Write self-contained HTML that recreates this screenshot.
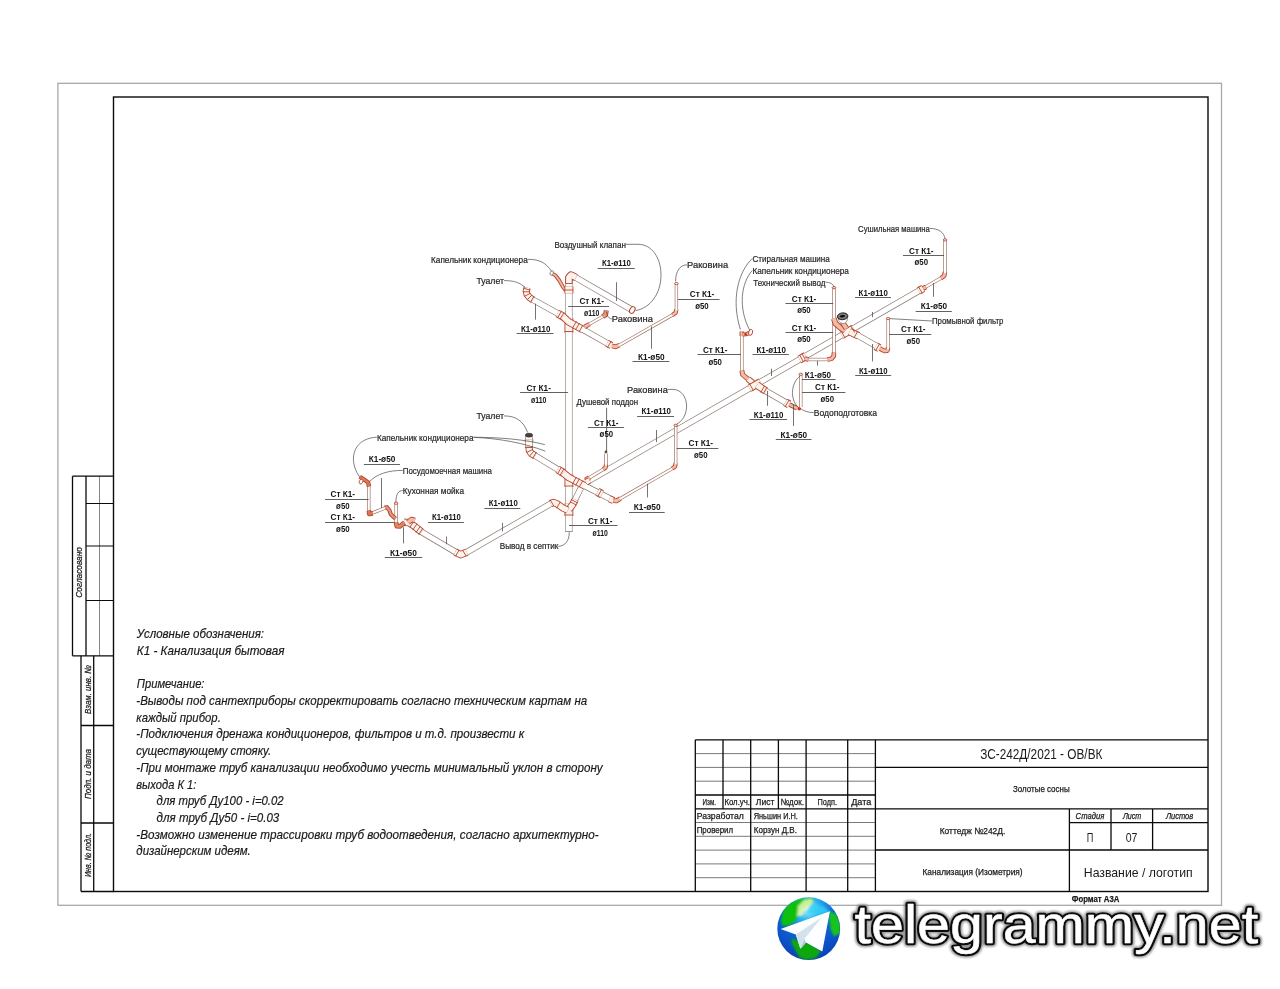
<!DOCTYPE html>
<html lang="ru"><head><meta charset="utf-8"><title>K1</title>
<style>
html,body{margin:0;padding:0;background:#fff;}
body{width:1280px;height:989px;overflow:hidden;position:relative;font-family:"Liberation Sans",sans-serif;}
svg{position:absolute;left:0;top:0;opacity:.999;will-change:transform;}
text{font-family:"Liberation Sans",sans-serif;fill:#1a1a1a;}
.n{font-style:italic;font-size:13px;stroke:#1a1a1a;stroke-width:0.2px;}
.t9{font-size:9px;stroke:#1a1a1a;stroke-width:0.25px;}
.lb{font-size:9.6px;fill:#262626;stroke:#262626;stroke-width:0.22px;}
.lbb{font-size:9.3px;fill:#151515;font-weight:bold;}
.fr line,.fr rect,.fr path{stroke:#0a0a0a;fill:none;}
</style></head><body>
<svg width="1280" height="989" viewBox="0 0 1280 989">
<rect x="0" y="0" width="1280" height="989" fill="#ffffff"/>
<!-- sheet outer border -->
<rect x="57.9" y="83.3" width="1163.6" height="822" fill="none" stroke="#a8a8a8" stroke-width="1.3"/>
<!-- FRAME -->
<g class="fr" id="frame">
<rect x="113.5" y="97" width="1094.5" height="794.5" stroke-width="1.4"/>
<!-- left stamp upper -->
<path d="M72.5 476.2H113.5M72.5 476.2V655.8M72.5 655.8H113.5M86 476.2V655.8" stroke-width="1.3"/>
<path d="M86 503.5H113.5M86 546H113.5M86 600.5H113.5" stroke-width="1.2"/>
<path d="M99.5 476.2V655.8" stroke-width="0.5"/>
<!-- left stamp lower -->
<path d="M81 655.8V891.5M81 891.5H113.5M93.7 655.8V891.5M81 725.5H113.5M81 823H113.5" stroke-width="1.3"/>
</g>
<!--TITLEBLOCK-->
<g class="fr" id="tb">
<path d="M695.3 739.8H1208M695.3 739.8V891.5M750.7 739.8V891.5M806.1 739.8V891.5M847.7 739.8V891.5M875.4 739.8V891.5M723.0 739.8V808.8M778.4 739.8V808.8M695.3 795.0H875.4M695.3 808.8H1208M875.4 767.4H1208M875.4 850H1208M1069.4 808.8V891.5M1111 808.8V850M1152.6 808.8V850M1069.4 822.6H1208" stroke-width="1.3"/>
<path d="M695.3 753.6H875.4M695.3 767.4H875.4M695.3 781.2H875.4M695.3 822.5H875.4M695.3 836.3H875.4M695.3 850.1H875.4M695.3 863.9H875.4M695.3 877.7H875.4" stroke-width="0.55" stroke="#333"/>
</g>
<text class="t9" x="702.5" y="805" textLength="13.5" lengthAdjust="spacingAndGlyphs">Изм.</text>
<text class="t9" x="724.4" y="805" textLength="25.6" lengthAdjust="spacingAndGlyphs">Кол.уч.</text>
<text class="t9" x="755.8" y="805" textLength="18.5" lengthAdjust="spacingAndGlyphs">Лист</text>
<text class="t9" x="780.4" y="805" textLength="23.5" lengthAdjust="spacingAndGlyphs">№док.</text>
<text class="t9" x="817.6" y="805" textLength="19.4" lengthAdjust="spacingAndGlyphs">Подп.</text>
<text class="t9" x="851.2" y="805" textLength="20.2" lengthAdjust="spacingAndGlyphs">Дата</text>
<text class="t9" x="696.7" y="818.6" textLength="47.1" lengthAdjust="spacingAndGlyphs">Разработал</text>
<text class="t9" x="753.7" y="818.6" textLength="44.2" lengthAdjust="spacingAndGlyphs">Яньшин И.Н.</text>
<text class="t9" x="696.7" y="832.7" textLength="36.4" lengthAdjust="spacingAndGlyphs">Проверил</text>
<text class="t9" x="753.7" y="832.7" textLength="43.3" lengthAdjust="spacingAndGlyphs">Корзун Д.В.</text>
<text class="t14" x="980.2" y="759.2" textLength="122.2" lengthAdjust="spacingAndGlyphs" style="font-size:13.8px">ЗС-242Д/2021 - ОВ/ВК</text>
<text class="t9" x="1013" y="791.6" textLength="56.6" lengthAdjust="spacingAndGlyphs">Золотые сосны</text>
<text class="t9" x="939.7" y="834" textLength="65.7" lengthAdjust="spacingAndGlyphs">Коттедж №242Д.</text>
<text class="t9" x="922.5" y="874.5" textLength="100.1" lengthAdjust="spacingAndGlyphs">Канализация (Изометрия)</text>
<text class="t9" x="1075.6" y="819.3" textLength="28.7" lengthAdjust="spacingAndGlyphs" style="font-style:italic">Стадия</text>
<text class="t9" x="1122.9" y="819.3" textLength="18.4" lengthAdjust="spacingAndGlyphs" style="font-style:italic">Лист</text>
<text class="t9" x="1165.9" y="819.3" textLength="27.3" lengthAdjust="spacingAndGlyphs" style="font-style:italic">Листов</text>
<text class="t13" x="1086.8" y="842.2" textLength="6.6" lengthAdjust="spacingAndGlyphs" style="font-size:13px">П</text>
<text class="t13" x="1125.7" y="842.2" textLength="11.7" lengthAdjust="spacingAndGlyphs" style="font-size:13px">07</text>
<text class="t13" x="1083.8" y="877.2" textLength="108.9" lengthAdjust="spacingAndGlyphs" style="font-size:13.4px">Название / логотип</text>
<text class="t9" x="1071.8" y="901.8" textLength="47.6" lengthAdjust="spacingAndGlyphs" style="font-weight:bold;font-size:8.6px">Формат А3А</text>
<!--/TITLEBLOCK-->
<!--NOTES-->
<g id="notes">
<text class="n" x="136.8" y="637.9" textLength="127.2" lengthAdjust="spacingAndGlyphs">Условные обозначения:</text>
<text class="n" x="136.8" y="654.6" textLength="147.7" lengthAdjust="spacingAndGlyphs">К1 - Канализация бытовая</text>
<text class="n" x="136.8" y="688.1" textLength="67.7" lengthAdjust="spacingAndGlyphs">Примечание:</text>
<text class="n" x="136.3" y="704.8" textLength="450.9" lengthAdjust="spacingAndGlyphs">-Выводы под сантехприборы скорректировать согласно техническим картам на</text>
<text class="n" x="136.3" y="721.5" textLength="84.5" lengthAdjust="spacingAndGlyphs">каждый прибор.</text>
<text class="n" x="136.3" y="738.3" textLength="387.9" lengthAdjust="spacingAndGlyphs">-Подключения дренажа кондиционеров, фильтров и т.д. произвести к</text>
<text class="n" x="136.3" y="755.0" textLength="134.8" lengthAdjust="spacingAndGlyphs">существующему стояку.</text>
<text class="n" x="136.3" y="771.7" textLength="466.3" lengthAdjust="spacingAndGlyphs">-При монтаже труб канализации необходимо учесть минимальный уклон в сторону</text>
<text class="n" x="136.3" y="788.5" textLength="60.1" lengthAdjust="spacingAndGlyphs">выхода К 1:</text>
<text class="n" x="156.6" y="805.2" textLength="127.1" lengthAdjust="spacingAndGlyphs">для труб Ду100 - i=0.02</text>
<text class="n" x="156.6" y="821.9" textLength="122.7" lengthAdjust="spacingAndGlyphs">для труб Ду50 - i=0.03</text>
<text class="n" x="136.3" y="838.7" textLength="462.3" lengthAdjust="spacingAndGlyphs">-Возможно изменение трассировки труб водоотведения, согласно архитектурно-</text>
<text class="n" x="136.3" y="855.4" textLength="114.5" lengthAdjust="spacingAndGlyphs">дизайнерским идеям.</text>
</g>
<text class="t9" style="font-style:italic" transform="translate(79.2 572.5) rotate(-90)" x="-25.2" y="3" textLength="50.5" lengthAdjust="spacingAndGlyphs">Согласовано</text>
<text class="t9" style="font-style:italic" transform="translate(88 689.5) rotate(-90)" x="-24.4" y="3" textLength="48.7" lengthAdjust="spacingAndGlyphs">Взам. инв. №</text>
<text class="t9" style="font-style:italic" transform="translate(88 774) rotate(-90)" x="-25.0" y="3" textLength="50" lengthAdjust="spacingAndGlyphs">Подп. и дата</text>
<text class="t9" style="font-style:italic" transform="translate(88 855) rotate(-90)" x="-22.0" y="3" textLength="44" lengthAdjust="spacingAndGlyphs">Инв. № подл.</text>
<!--/NOTES-->
<!--DIAGRAM-->
<g id="dia" fill="none">
<path d="M568.9 276V531.3" stroke="#a08d86" stroke-width="7.40"/>
<path d="M568.9 275V532" stroke="#fff" stroke-width="6.00"/>
<path d="M565.2 531.5H572.6" stroke="#87746d" stroke-width="0.8"/>
<path d="M573.5 276.3L631.6 309.6" stroke="#87746d" stroke-width="6.45" stroke-linecap="butt"/>
<path d="M573.0 276.0L632.1 309.9" stroke="#fff" stroke-width="5.15" stroke-linecap="butt"/>
<ellipse cx="632.3" cy="310" rx="2.4" ry="3.6" transform="rotate(30 632.3 310)" fill="#fff" stroke="#b5452a" stroke-width="1.1"/>
<path d="M568.9 283.0L568.9 277.5L571.0 275.0L576.0 277.6" stroke="#b5452a" stroke-width="7.40" stroke-linecap="butt" stroke-linejoin="round"/>
<path d="M568.9 283.0L568.9 277.5L571.0 275.0L576.0 277.6" stroke="#fdf4ef" stroke-width="5.60" stroke-linecap="butt" stroke-linejoin="round"/>
<path d="M572.6 283.5L565.1 283.5" stroke="#b5452a" stroke-width="0.9"/>
<path d="M552.0 273.2L555.5 275.5L559.0 280.0L563.0 287.0L565.5 290.5" stroke="#b5452a" stroke-width="3.70" stroke-linecap="butt" stroke-linejoin="round"/>
<path d="M552.0 273.2L555.5 275.5L559.0 280.0L563.0 287.0L565.5 290.5" stroke="#f0bba8" stroke-width="1.90" stroke-linecap="butt" stroke-linejoin="round"/>
<ellipse cx="551.7" cy="273" rx="1.5" ry="2.4" transform="rotate(25 551.7 273)" fill="#fff" stroke="#87746d" stroke-width="0.8"/>
<path d="M568.9 286.5L568.9 293.5" stroke="#b5452a" stroke-width="9.00" stroke-linecap="butt" stroke-linejoin="round"/>
<path d="M568.9 286.5L568.9 293.5" stroke="#fdf4ef" stroke-width="7.20" stroke-linecap="butt" stroke-linejoin="round"/>
<path d="M573.2 290.0L564.5 290.0" stroke="#b5452a" stroke-width="0.9"/>
<path d="M531.6 299.0L560.5 315.0" stroke="#87746d" stroke-width="6.45" stroke-linecap="butt"/>
<path d="M531.1 298.7L561.0 315.3" stroke="#fff" stroke-width="5.15" stroke-linecap="butt"/>
<path d="M527.2 287.6L526.2 291.0L527.0 294.5L529.5 297.5L533.0 299.8" stroke="#b5452a" stroke-width="7.00" stroke-linecap="butt" stroke-linejoin="round"/>
<path d="M527.2 287.6L526.2 291.0L527.0 294.5L529.5 297.5L533.0 299.8" stroke="#fdf4ef" stroke-width="5.20" stroke-linecap="butt" stroke-linejoin="round"/>
<path d="M530.2 290.1L523.6 288.3" stroke="#b5452a" stroke-width="0.9"/>
<path d="M529.9 291.8L522.9 291.8" stroke="#b5452a" stroke-width="0.9"/>
<path d="M530.5 293.3L524.3 296.3" stroke="#b5452a" stroke-width="0.9"/>
<path d="M532.0 295.0L527.2 299.8" stroke="#b5452a" stroke-width="0.9"/>
<path d="M533.9 296.3L530.5 302.3" stroke="#b5452a" stroke-width="0.9"/>
<path d="M557.5 313.4L564.0 317.0" stroke="#b5452a" stroke-width="8.00" stroke-linecap="butt" stroke-linejoin="round"/>
<path d="M557.5 313.4L564.0 317.0" stroke="#fdf4ef" stroke-width="6.20" stroke-linecap="butt" stroke-linejoin="round"/>
<path d="M561.5 311.1L557.5 317.9" stroke="#b5452a" stroke-width="0.9"/>
<path d="M564.0 312.5L560.0 319.3" stroke="#b5452a" stroke-width="0.9"/>
<path d="M568.9 318.0L568.9 333.0" stroke="#b5452a" stroke-width="8.80" stroke-linecap="butt" stroke-linejoin="round"/>
<path d="M568.9 318.0L568.9 333.0" stroke="#fdf4ef" stroke-width="7.00" stroke-linecap="butt" stroke-linejoin="round"/>
<path d="M563.0 316.5L568.9 322.0L583.0 329.6" stroke="#b5452a" stroke-width="7.60" stroke-linecap="butt" stroke-linejoin="round"/>
<path d="M563.0 316.5L568.9 322.0L583.0 329.6" stroke="#fdf4ef" stroke-width="5.80" stroke-linecap="butt" stroke-linejoin="round"/>
<path d="M573.1 331.5L564.6 331.5" stroke="#b5452a" stroke-width="0.9"/>
<path d="M576.5 321.3L572.5 328.1" stroke="#b5452a" stroke-width="0.9"/>
<path d="M579.5 323.0L575.5 329.8" stroke="#b5452a" stroke-width="0.9"/>
<path d="M583.0 325.0L579.0 331.8" stroke="#b5452a" stroke-width="0.9"/>
<path d="M583.0 329.6L608.0 343.7" stroke="#87746d" stroke-width="6.45" stroke-linecap="butt"/>
<path d="M582.5 329.3L608.5 344.0" stroke="#fff" stroke-width="5.15" stroke-linecap="butt"/>
<path d="M588.5 324.6L604.3 315.6" stroke="#9d6f5e" stroke-width="3.35" stroke-linecap="butt"/>
<path d="M588.0 324.9L604.8 315.3" stroke="#fff" stroke-width="2.05" stroke-linecap="butt"/>
<path d="M584.5 327.0L589.5 324.1" stroke="#b5452a" stroke-width="4.50" stroke-linecap="butt" stroke-linejoin="round"/>
<path d="M584.5 327.0L589.5 324.1" stroke="#f0bba8" stroke-width="2.70" stroke-linecap="butt" stroke-linejoin="round"/>
<path d="M602.8 316.6L605.6 314.6L606.3 310.4" stroke="#b5452a" stroke-width="5.00" stroke-linecap="butt" stroke-linejoin="round"/>
<path d="M602.8 316.6L605.6 314.6L606.3 310.4" stroke="#e39a80" stroke-width="3.20" stroke-linecap="butt" stroke-linejoin="round"/>
<path d="M607.0 343.2L611.5 345.6" stroke="#b5452a" stroke-width="7.40" stroke-linecap="butt" stroke-linejoin="round"/>
<path d="M607.0 343.2L611.5 345.6" stroke="#fdf4ef" stroke-width="5.60" stroke-linecap="butt" stroke-linejoin="round"/>
<path d="M611.2 341.2L607.4 347.6" stroke="#b5452a" stroke-width="0.9"/>
<path d="M612.0 346.0L615.5 346.8L619.5 345.1" stroke="#b5452a" stroke-width="4.70" stroke-linecap="butt" stroke-linejoin="round"/>
<path d="M612.0 346.0L615.5 346.8L619.5 345.1" stroke="#f0bba8" stroke-width="2.90" stroke-linecap="butt" stroke-linejoin="round"/>
<path d="M619.5 345.1L673.8 314.2" stroke="#9d6f5e" stroke-width="3.35" stroke-linecap="butt"/>
<path d="M619.0 345.4L674.3 313.9" stroke="#fff" stroke-width="2.05" stroke-linecap="butt"/>
<path d="M672.5 315.0L675.6 312.8L676.4 309.5" stroke="#b5452a" stroke-width="4.30" stroke-linecap="butt" stroke-linejoin="round"/>
<path d="M672.5 315.0L675.6 312.8L676.4 309.5" stroke="#f0bba8" stroke-width="2.50" stroke-linecap="butt" stroke-linejoin="round"/>
<path d="M676.4 310.0L676.4 284.3" stroke="#9d6f5e" stroke-width="3.35" stroke-linecap="butt"/>
<path d="M676.4 310.6L676.4 283.7" stroke="#fff" stroke-width="2.05" stroke-linecap="butt"/>
<ellipse cx="676.4" cy="283.6" rx="1.8" ry="1.1" fill="#fdf4ef" stroke="#b5452a" stroke-width="0.9"/>
<path d="M529.0 436.0L529.0 448.0" stroke="#87746d" stroke-width="7.25" stroke-linecap="butt"/>
<path d="M529.0 435.4L529.0 448.6" stroke="#fff" stroke-width="5.95" stroke-linecap="butt"/>
<ellipse cx="529" cy="435.2" rx="3.6" ry="1.9" fill="#4d433f" stroke="#2a2522" stroke-width="0.7"/>
<path d="M529.0 439.5L529.0 442.0" stroke="#b5452a" stroke-width="8.40" stroke-linecap="butt" stroke-linejoin="round"/>
<path d="M529.0 439.5L529.0 442.0" stroke="#fdf4ef" stroke-width="6.60" stroke-linecap="butt" stroke-linejoin="round"/>
<path d="M534.0 455.1L562.1 472.1" stroke="#87746d" stroke-width="6.45" stroke-linecap="butt"/>
<path d="M533.5 454.8L562.6 472.4" stroke="#fff" stroke-width="5.15" stroke-linecap="butt"/>
<path d="M529.0 446.5L529.3 450.5L531.2 453.4L535.2 455.9" stroke="#b5452a" stroke-width="7.20" stroke-linecap="butt" stroke-linejoin="round"/>
<path d="M529.0 446.5L529.3 450.5L531.2 453.4L535.2 455.9" stroke="#fdf4ef" stroke-width="5.40" stroke-linecap="butt" stroke-linejoin="round"/>
<path d="M532.5 447.5L525.5 447.5" stroke="#b5452a" stroke-width="0.9"/>
<path d="M532.8 449.5L526.4 452.5" stroke="#b5452a" stroke-width="0.9"/>
<path d="M533.9 451.0L529.3 456.4" stroke="#b5452a" stroke-width="0.9"/>
<path d="M536.2 452.3L532.6 458.5" stroke="#b5452a" stroke-width="0.9"/>
<path d="M557.6 469.4L563.5 473.0" stroke="#b5452a" stroke-width="8.00" stroke-linecap="butt" stroke-linejoin="round"/>
<path d="M557.6 469.4L563.5 473.0" stroke="#fdf4ef" stroke-width="6.20" stroke-linecap="butt" stroke-linejoin="round"/>
<path d="M561.5 467.1L557.5 473.9" stroke="#b5452a" stroke-width="0.9"/>
<path d="M564.0 468.6L560.0 475.4" stroke="#b5452a" stroke-width="0.9"/>
<path d="M581.0 487.6L573.6 502.6" stroke="#87746d" stroke-width="6.25" stroke-linecap="butt"/>
<path d="M581.3 487.1L573.3 503.1" stroke="#fff" stroke-width="4.95" stroke-linecap="butt"/>
<path d="M588.0 481.3L921.0 289.6" stroke="#87746d" stroke-width="6.45" stroke-linecap="butt"/>
<path d="M587.5 481.6L921.5 289.3" stroke="#fff" stroke-width="5.15" stroke-linecap="butt"/>
<path d="M568.9 474.5L568.9 487.0" stroke="#b5452a" stroke-width="8.80" stroke-linecap="butt" stroke-linejoin="round"/>
<path d="M568.9 474.5L568.9 487.0" stroke="#fdf4ef" stroke-width="7.00" stroke-linecap="butt" stroke-linejoin="round"/>
<path d="M563.0 472.7L568.9 477.5L585.0 486.0" stroke="#b5452a" stroke-width="7.60" stroke-linecap="butt" stroke-linejoin="round"/>
<path d="M563.0 472.7L568.9 477.5L585.0 486.0" stroke="#fdf4ef" stroke-width="5.80" stroke-linecap="butt" stroke-linejoin="round"/>
<path d="M573.1 486.0L564.6 486.0" stroke="#b5452a" stroke-width="0.9"/>
<path d="M576.5 477.0L572.5 483.9" stroke="#b5452a" stroke-width="0.9"/>
<path d="M579.5 478.6L575.5 485.5" stroke="#b5452a" stroke-width="0.9"/>
<path d="M583.0 480.5L579.0 487.3" stroke="#b5452a" stroke-width="0.9"/>
<path d="M588.5 478.2L604.4 468.7" stroke="#9d6f5e" stroke-width="3.35" stroke-linecap="butt"/>
<path d="M588.0 478.5L604.9 468.4" stroke="#fff" stroke-width="2.05" stroke-linecap="butt"/>
<path d="M585.5 480.2L589.5 477.7" stroke="#b5452a" stroke-width="5.30" stroke-linecap="butt" stroke-linejoin="round"/>
<path d="M585.5 480.2L589.5 477.7" stroke="#f0bba8" stroke-width="3.50" stroke-linecap="butt" stroke-linejoin="round"/>
<path d="M603.3 469.3L605.6 467.5L606.0 464.5" stroke="#b5452a" stroke-width="4.30" stroke-linecap="butt" stroke-linejoin="round"/>
<path d="M603.3 469.3L605.6 467.5L606.0 464.5" stroke="#f0bba8" stroke-width="2.50" stroke-linecap="butt" stroke-linejoin="round"/>
<path d="M606.0 465.0L606.0 453.5" stroke="#9d6f5e" stroke-width="3.35" stroke-linecap="butt"/>
<path d="M606.0 465.6L606.0 452.9" stroke="#fff" stroke-width="2.05" stroke-linecap="butt"/>
<circle cx="606.0" cy="452.0" r="1.4" fill="#5a4a45"/>
<path d="M606.6 407.8V451" stroke="#444" stroke-width="0.8" fill="none"/>
<path d="M585.0 486.0L611.0 499.2" stroke="#87746d" stroke-width="6.45" stroke-linecap="butt"/>
<path d="M584.5 485.7L611.5 499.5" stroke="#fff" stroke-width="5.15" stroke-linecap="butt"/>
<path d="M597.5 491.8L601.9 494.2" stroke="#b5452a" stroke-width="8.40" stroke-linecap="butt" stroke-linejoin="round"/>
<path d="M597.5 491.8L601.9 494.2" stroke="#fdf4ef" stroke-width="6.60" stroke-linecap="butt" stroke-linejoin="round"/>
<path d="M601.7 489.5L597.7 496.5" stroke="#b5452a" stroke-width="0.9"/>
<path d="M609.5 498.7L613.6 500.6" stroke="#b5452a" stroke-width="7.20" stroke-linecap="butt" stroke-linejoin="round"/>
<path d="M609.5 498.7L613.6 500.6" stroke="#fdf4ef" stroke-width="5.40" stroke-linecap="butt" stroke-linejoin="round"/>
<path d="M613.2 500.6L616.5 500.9L620.4 498.5" stroke="#b5452a" stroke-width="4.90" stroke-linecap="butt" stroke-linejoin="round"/>
<path d="M613.2 500.6L616.5 500.9L620.4 498.5" stroke="#f0bba8" stroke-width="3.10" stroke-linecap="butt" stroke-linejoin="round"/>
<path d="M620.4 498.5L673.5 467.9" stroke="#9d6f5e" stroke-width="3.35" stroke-linecap="butt"/>
<path d="M619.9 498.8L674.0 467.6" stroke="#fff" stroke-width="2.05" stroke-linecap="butt"/>
<path d="M672.3 468.6L675.0 466.6L675.7 463.0" stroke="#b5452a" stroke-width="4.30" stroke-linecap="butt" stroke-linejoin="round"/>
<path d="M672.3 468.6L675.0 466.6L675.7 463.0" stroke="#f0bba8" stroke-width="2.50" stroke-linecap="butt" stroke-linejoin="round"/>
<path d="M675.7 463.6L675.7 426.0" stroke="#9d6f5e" stroke-width="3.35" stroke-linecap="butt"/>
<path d="M675.7 464.2L675.7 425.4" stroke="#fff" stroke-width="2.05" stroke-linecap="butt"/>
<ellipse cx="675.7" cy="425.3" rx="1.8" ry="1.1" fill="#fdf4ef" stroke="#b5452a" stroke-width="0.9"/>
<path d="M568.9 503.5L568.9 516.0" stroke="#b5452a" stroke-width="8.80" stroke-linecap="butt" stroke-linejoin="round"/>
<path d="M568.9 503.5L568.9 516.0" stroke="#fdf4ef" stroke-width="7.00" stroke-linecap="butt" stroke-linejoin="round"/>
<path d="M575.3 499.6L572.4 505.0L568.9 509.5" stroke="#b5452a" stroke-width="7.20" stroke-linecap="butt" stroke-linejoin="round"/>
<path d="M575.3 499.6L572.4 505.0L568.9 509.5" stroke="#fdf4ef" stroke-width="5.40" stroke-linecap="butt" stroke-linejoin="round"/>
<path d="M577.6 502.9L571.0 499.5" stroke="#b5452a" stroke-width="0.9"/>
<path d="M576.5 505.1L569.9 501.7" stroke="#b5452a" stroke-width="0.9"/>
<path d="M573.1 515.0L564.6 515.0" stroke="#b5452a" stroke-width="0.9"/>
<path d="M552.0 503.0L466.0 552.6" stroke="#87746d" stroke-width="6.45" stroke-linecap="butt"/>
<path d="M552.5 502.7L465.5 552.9" stroke="#fff" stroke-width="5.15" stroke-linecap="butt"/>
<path d="M567.9 510.2L563.0 508.0L556.5 503.6L553.2 502.4L550.5 503.8" stroke="#b5452a" stroke-width="7.20" stroke-linecap="butt" stroke-linejoin="round"/>
<path d="M567.9 510.2L563.0 508.0L556.5 503.6L553.2 502.4L550.5 503.8" stroke="#fdf4ef" stroke-width="5.40" stroke-linecap="butt" stroke-linejoin="round"/>
<path d="M560.4 501.8L556.6 508.2" stroke="#b5452a" stroke-width="0.9"/>
<path d="M550.1 499.7L553.9 506.1" stroke="#b5452a" stroke-width="0.9"/>
<path d="M456.5 552.6L419.5 530.7" stroke="#87746d" stroke-width="6.45" stroke-linecap="butt"/>
<path d="M457.0 552.9L419.0 530.4" stroke="#fff" stroke-width="5.15" stroke-linecap="butt"/>
<path d="M455.2 551.9L460.8 554.7L466.8 552.2" stroke="#b5452a" stroke-width="7.40" stroke-linecap="butt" stroke-linejoin="round"/>
<path d="M455.2 551.9L460.8 554.7L466.8 552.2" stroke="#fdf4ef" stroke-width="5.60" stroke-linecap="butt" stroke-linejoin="round"/>
<path d="M459.2 550.0L455.4 556.4" stroke="#b5452a" stroke-width="0.9"/>
<path d="M462.5 550.0L466.3 556.4" stroke="#b5452a" stroke-width="0.9"/>
<path d="M404.0 522.2L409.0 522.6L414.5 526.3L421.5 531.9" stroke="#b5452a" stroke-width="7.40" stroke-linecap="butt" stroke-linejoin="round"/>
<path d="M404.0 522.2L409.0 522.6L414.5 526.3L421.5 531.9" stroke="#fdf4ef" stroke-width="5.60" stroke-linecap="butt" stroke-linejoin="round"/>
<path d="M413.7 521.1L409.9 527.5" stroke="#b5452a" stroke-width="0.9"/>
<path d="M417.2 523.6L412.8 529.8" stroke="#b5452a" stroke-width="0.9"/>
<path d="M420.4 526.3L416.0 532.5" stroke="#b5452a" stroke-width="0.9"/>
<path d="M422.7 528.2L418.9 534.6" stroke="#b5452a" stroke-width="0.9"/>
<path d="M408.0 522.4L411.5 519.6L415.0 520.4" stroke="#b5452a" stroke-width="5.60" stroke-linecap="butt" stroke-linejoin="round"/>
<path d="M408.0 522.4L411.5 519.6L415.0 520.4" stroke="#f0bba8" stroke-width="3.80" stroke-linecap="butt" stroke-linejoin="round"/>
<path d="M396.1 504.0L396.1 524.5" stroke="#9d6f5e" stroke-width="3.35" stroke-linecap="butt"/>
<path d="M396.1 503.4L396.1 525.1" stroke="#fff" stroke-width="2.05" stroke-linecap="butt"/>
<ellipse cx="396.1" cy="503.2" rx="1.8" ry="1.1" fill="#fdf4ef" stroke="#b5452a" stroke-width="0.9"/>
<path d="M396.1 522.5L396.8 526.2L399.8 526.3L404.5 522.6" stroke="#b5452a" stroke-width="4.70" stroke-linecap="butt" stroke-linejoin="round"/>
<path d="M396.1 522.5L396.8 526.2L399.8 526.3L404.5 522.6" stroke="#e08468" stroke-width="2.90" stroke-linecap="butt" stroke-linejoin="round"/>
<path d="M384.2 507.8L387.0 507.2L389.4 510.2L390.8 514.2L393.4 516.8L395.6 518.6" stroke="#b5452a" stroke-width="4.20" stroke-linecap="butt" stroke-linejoin="round"/>
<path d="M384.2 507.8L387.0 507.2L389.4 510.2L390.8 514.2L393.4 516.8L395.6 518.6" stroke="#dd9379" stroke-width="2.40" stroke-linecap="butt" stroke-linejoin="round"/>
<path d="M371.5 513.4L384.4 508.2" stroke="#9d6f5e" stroke-width="3.35" stroke-linecap="butt"/>
<path d="M370.9 513.6L385.0 508.0" stroke="#fff" stroke-width="2.05" stroke-linecap="butt"/>
<path d="M368.8 484.0L368.8 512.0" stroke="#9d6f5e" stroke-width="3.35" stroke-linecap="butt"/>
<path d="M368.8 483.4L368.8 512.6" stroke="#fff" stroke-width="2.05" stroke-linecap="butt"/>
<path d="M368.8 510.5L369.4 514.0L372.6 513.4" stroke="#b5452a" stroke-width="4.70" stroke-linecap="butt" stroke-linejoin="round"/>
<path d="M368.8 510.5L369.4 514.0L372.6 513.4" stroke="#dd7355" stroke-width="2.90" stroke-linecap="butt" stroke-linejoin="round"/>
<path d="M359.8 476.8L364.0 479.6L368.2 482.6L368.9 486.5" stroke="#b5452a" stroke-width="4.30" stroke-linecap="butt" stroke-linejoin="round"/>
<path d="M359.8 476.8L364.0 479.6L368.2 482.6L368.9 486.5" stroke="#d9795c" stroke-width="2.50" stroke-linecap="butt" stroke-linejoin="round"/>
<ellipse cx="361" cy="481.6" rx="1.7" ry="2.5" transform="rotate(25 361 481.6)" fill="#fff" stroke="#b5452a" stroke-width="0.8"/>
<path d="M741.9 333.0L741.9 372.0" stroke="#9d6f5e" stroke-width="3.35" stroke-linecap="butt"/>
<path d="M741.9 332.4L741.9 372.6" stroke="#fff" stroke-width="2.05" stroke-linecap="butt"/>
<path d="M741.9 370.5L742.6 374.5L746.0 377.5L750.0 380.5" stroke="#b5452a" stroke-width="4.90" stroke-linecap="butt" stroke-linejoin="round"/>
<path d="M741.9 370.5L742.6 374.5L746.0 377.5L750.0 380.5" stroke="#f0bba8" stroke-width="3.10" stroke-linecap="butt" stroke-linejoin="round"/>
<path d="M748.0 379.0L753.0 383.0" stroke="#b5452a" stroke-width="6.30" stroke-linecap="butt" stroke-linejoin="round"/>
<path d="M748.0 379.0L753.0 383.0" stroke="#fdf4ef" stroke-width="4.50" stroke-linecap="butt" stroke-linejoin="round"/>
<path d="M741.9 336.0L741.9 331.5" stroke="#b5452a" stroke-width="4.70" stroke-linecap="butt" stroke-linejoin="round"/>
<path d="M741.9 336.0L741.9 331.5" stroke="#f0bba8" stroke-width="2.90" stroke-linecap="butt" stroke-linejoin="round"/>
<path d="M742.4 334.5L746.0 334.2L750.0 332.8" stroke="#b5452a" stroke-width="4.10" stroke-linecap="butt" stroke-linejoin="round"/>
<path d="M742.4 334.5L746.0 334.2L750.0 332.8" stroke="#f0bba8" stroke-width="2.30" stroke-linecap="butt" stroke-linejoin="round"/>
<ellipse cx="750.6" cy="332.4" rx="1.9" ry="3.0" transform="rotate(15 750.6 332.4)" fill="#fff" stroke="#b5452a" stroke-width="0.9"/>
<circle cx="745.6" cy="334.3" r="1.3" fill="#c8391f"/>
<path d="M765.0 390.6L786.0 402.6" stroke="#87746d" stroke-width="6.45" stroke-linecap="butt"/>
<path d="M764.5 390.3L786.5 402.9" stroke="#fff" stroke-width="5.15" stroke-linecap="butt"/>
<path d="M749.5 388.3L760.5 382.0" stroke="#b5452a" stroke-width="7.80" stroke-linecap="butt" stroke-linejoin="round"/>
<path d="M749.5 388.3L760.5 382.0" stroke="#fdf4ef" stroke-width="6.00" stroke-linecap="butt" stroke-linejoin="round"/>
<path d="M757.0 385.0L766.0 391.2" stroke="#b5452a" stroke-width="7.60" stroke-linecap="butt" stroke-linejoin="round"/>
<path d="M757.0 385.0L766.0 391.2" stroke="#fdf4ef" stroke-width="5.80" stroke-linecap="butt" stroke-linejoin="round"/>
<path d="M749.5 383.7L753.5 390.7" stroke="#b5452a" stroke-width="0.9"/>
<path d="M764.5 386.0L760.7 392.6" stroke="#b5452a" stroke-width="0.9"/>
<path d="M766.9 387.4L763.1 394.0" stroke="#b5452a" stroke-width="0.9"/>
<path d="M785.3 402.2L789.1 404.4" stroke="#b5452a" stroke-width="8.20" stroke-linecap="butt" stroke-linejoin="round"/>
<path d="M785.3 402.2L789.1 404.4" stroke="#fdf4ef" stroke-width="6.40" stroke-linecap="butt" stroke-linejoin="round"/>
<path d="M789.2 399.9L785.2 406.7" stroke="#b5452a" stroke-width="0.9"/>
<path d="M789.5 404.6L797.0 408.2" stroke="#b5452a" stroke-width="4.50" stroke-linecap="butt" stroke-linejoin="round"/>
<path d="M789.5 404.6L797.0 408.2" stroke="#f0bba8" stroke-width="2.70" stroke-linecap="butt" stroke-linejoin="round"/>
<circle cx="799.3" cy="408.6" r="1.9" fill="#cc3a22"/>
<path d="M800.8 407.0L800.8 375.0" stroke="#9d6f5e" stroke-width="3.35" stroke-linecap="butt"/>
<path d="M800.8 407.6L800.8 374.4" stroke="#fff" stroke-width="2.05" stroke-linecap="butt"/>
<ellipse cx="800.8" cy="374.3" rx="1.8" ry="1.1" fill="#fdf4ef" stroke="#b5452a" stroke-width="0.9"/>
<path d="M799.5 359.6L805.9 355.9" stroke="#b5452a" stroke-width="8.20" stroke-linecap="butt" stroke-linejoin="round"/>
<path d="M799.5 359.6L805.9 355.9" stroke="#fdf4ef" stroke-width="6.40" stroke-linecap="butt" stroke-linejoin="round"/>
<path d="M799.5 354.9L803.5 361.9" stroke="#b5452a" stroke-width="0.9"/>
<path d="M801.9 353.5L805.9 360.5" stroke="#b5452a" stroke-width="0.9"/>
<path d="M807.0 359.5L829.0 359.5" stroke="#9d6f5e" stroke-width="3.35" stroke-linecap="butt"/>
<path d="M806.4 359.5L829.6 359.5" stroke="#fff" stroke-width="2.05" stroke-linecap="butt"/>
<path d="M805.0 358.6L808.5 359.5" stroke="#b5452a" stroke-width="4.70" stroke-linecap="butt" stroke-linejoin="round"/>
<path d="M805.0 358.6L808.5 359.5" stroke="#f0bba8" stroke-width="2.90" stroke-linecap="butt" stroke-linejoin="round"/>
<path d="M834.0 355.0L834.0 288.5" stroke="#9d6f5e" stroke-width="3.35" stroke-linecap="butt"/>
<path d="M834.0 355.6L834.0 287.9" stroke="#fff" stroke-width="2.05" stroke-linecap="butt"/>
<path d="M827.5 359.5L831.5 358.8L833.7 356.2L834.0 352.5" stroke="#b5452a" stroke-width="4.60" stroke-linecap="butt" stroke-linejoin="round"/>
<path d="M827.5 359.5L831.5 358.8L833.7 356.2L834.0 352.5" stroke="#f0bba8" stroke-width="2.80" stroke-linecap="butt" stroke-linejoin="round"/>
<ellipse cx="834.0" cy="287.7" rx="1.8" ry="1.1" fill="#fdf4ef" stroke="#b5452a" stroke-width="0.9"/>
<path d="M841.6 335.3L853.6 328.4" stroke="#b5452a" stroke-width="7.80" stroke-linecap="butt" stroke-linejoin="round"/>
<path d="M841.6 335.3L853.6 328.4" stroke="#fdf4ef" stroke-width="6.00" stroke-linecap="butt" stroke-linejoin="round"/>
<path d="M849.5 331.6L858.5 335.8" stroke="#b5452a" stroke-width="7.60" stroke-linecap="butt" stroke-linejoin="round"/>
<path d="M849.5 331.6L858.5 335.8" stroke="#fdf4ef" stroke-width="5.80" stroke-linecap="butt" stroke-linejoin="round"/>
<path d="M841.1 331.0L845.1 338.0" stroke="#b5452a" stroke-width="0.9"/>
<path d="M850.6 325.5L854.6 332.5" stroke="#b5452a" stroke-width="0.9"/>
<path d="M857.9 331.0L854.1 337.6" stroke="#b5452a" stroke-width="0.9"/>
<path d="M833.8 318.5L835.5 323.5L840.0 327.5L845.0 330.8" stroke="#b5452a" stroke-width="5.70" stroke-linecap="butt" stroke-linejoin="round"/>
<path d="M833.8 318.5L835.5 323.5L840.0 327.5L845.0 330.8" stroke="#f0bba8" stroke-width="3.90" stroke-linecap="butt" stroke-linejoin="round"/>
<path d="M842.5 319.5L843.5 324.0L846.5 328.5" stroke="#b5452a" stroke-width="5.70" stroke-linecap="butt" stroke-linejoin="round"/>
<path d="M842.5 319.5L843.5 324.0L846.5 328.5" stroke="#f0bba8" stroke-width="3.90" stroke-linecap="butt" stroke-linejoin="round"/>
<path d="M838 318.2C838.3 321.5 840.5 323.6 843 323.6C845.6 323.6 847.5 321.3 847.6 317.8Z" fill="#fff" stroke="#87746d" stroke-width="0.7"/>
<ellipse cx="842.6" cy="316.3" rx="5.3" ry="3.4" transform="rotate(-6 842.6 316.3)" fill="#6a6a6a" stroke="#1d1d1d" stroke-width="0.9"/>
<ellipse cx="842.4" cy="316.2" rx="3.2" ry="1.9" transform="rotate(-6 842.4 316.2)" fill="#141414" stroke="#ddd" stroke-width="0.5"/>
<path d="M858.5 335.8L877.5 346.7" stroke="#87746d" stroke-width="6.45" stroke-linecap="butt"/>
<path d="M858.0 335.5L878.0 347.0" stroke="#fff" stroke-width="5.15" stroke-linecap="butt"/>
<path d="M875.8 346.1L879.4 348.2" stroke="#b5452a" stroke-width="8.20" stroke-linecap="butt" stroke-linejoin="round"/>
<path d="M875.8 346.1L879.4 348.2" stroke="#fdf4ef" stroke-width="6.40" stroke-linecap="butt" stroke-linejoin="round"/>
<path d="M879.6 343.8L875.6 350.6" stroke="#b5452a" stroke-width="0.9"/>
<path d="M880.0 348.6L884.5 351.0L887.4 350.6L888.1 347.5" stroke="#b5452a" stroke-width="4.60" stroke-linecap="butt" stroke-linejoin="round"/>
<path d="M880.0 348.6L884.5 351.0L887.4 350.6L888.1 347.5" stroke="#f0bba8" stroke-width="2.80" stroke-linecap="butt" stroke-linejoin="round"/>
<path d="M888.1 348.5L888.1 319.3" stroke="#9d6f5e" stroke-width="3.35" stroke-linecap="butt"/>
<path d="M888.1 349.1L888.1 318.7" stroke="#fff" stroke-width="2.05" stroke-linecap="butt"/>
<ellipse cx="888.1" cy="318.6" rx="1.8" ry="1.1" fill="#fdf4ef" stroke="#b5452a" stroke-width="0.9"/>
<path d="M918.6 291.0L923.2 288.4" stroke="#b5452a" stroke-width="7.60" stroke-linecap="butt" stroke-linejoin="round"/>
<path d="M918.6 291.0L923.2 288.4" stroke="#fdf4ef" stroke-width="5.80" stroke-linecap="butt" stroke-linejoin="round"/>
<path d="M918.4 286.6L922.4 293.4" stroke="#b5452a" stroke-width="0.9"/>
<path d="M924.0 287.9L942.4 277.3" stroke="#9d6f5e" stroke-width="3.35" stroke-linecap="butt"/>
<path d="M923.5 288.2L942.9 277.0" stroke="#fff" stroke-width="2.05" stroke-linecap="butt"/>
<path d="M923.0 288.5L926.0 286.8" stroke="#b5452a" stroke-width="4.90" stroke-linecap="butt" stroke-linejoin="round"/>
<path d="M923.0 288.5L926.0 286.8" stroke="#f0bba8" stroke-width="3.10" stroke-linecap="butt" stroke-linejoin="round"/>
<path d="M941.0 278.1L944.2 275.8L945.0 272.0" stroke="#b5452a" stroke-width="4.50" stroke-linecap="butt" stroke-linejoin="round"/>
<path d="M941.0 278.1L944.2 275.8L945.0 272.0" stroke="#f0bba8" stroke-width="2.70" stroke-linecap="butt" stroke-linejoin="round"/>
<path d="M945.0 272.6L945.0 240.6" stroke="#9d6f5e" stroke-width="3.35" stroke-linecap="butt"/>
<path d="M945.0 273.2L945.0 240.0" stroke="#fff" stroke-width="2.05" stroke-linecap="butt"/>
<ellipse cx="945.0" cy="239.9" rx="1.8" ry="1.1" fill="#fdf4ef" stroke="#b5452a" stroke-width="0.9"/>
<path d="M586.0 482.4L589.5 480.4" stroke="#b5452a" stroke-width="6.60" stroke-linecap="butt" stroke-linejoin="round"/>
<path d="M586.0 482.4L589.5 480.4" stroke="#fdf4ef" stroke-width="4.80" stroke-linecap="butt" stroke-linejoin="round"/>
</g>
<g id="lbl" fill="none">
<text class="lb" x="431.0" y="262.6" textLength="96.8" lengthAdjust="spacingAndGlyphs">Капельник кондиционера</text>
<path d="M527.8 259.3C540 259.3 546 263 551.6 271.3" stroke="#4a4a4a" stroke-width="0.7" fill="none"/>
<text class="lb" x="476.4" y="283.9" textLength="27.6" lengthAdjust="spacingAndGlyphs">Туалет</text>
<path d="M504 280.6C514 280.6 520 282.5 525.6 288" stroke="#4a4a4a" stroke-width="0.7" fill="none"/>
<text class="lb" x="554.4" y="247.7" textLength="71.5" lengthAdjust="spacingAndGlyphs">Воздушный клапан</text>
<path d="M625.9 244.3H638C652 244.3 661 258 661 275C661 294 650 308 635.8 310.6" stroke="#4a4a4a" stroke-width="0.7" fill="none"/>
<text class="lb" x="687.0" y="268.1" textLength="41.1" lengthAdjust="spacingAndGlyphs">Раковина</text>
<path d="M687 264.9C680 264.9 675.6 271 675.6 281.5" stroke="#4a4a4a" stroke-width="0.7" fill="none"/>
<text class="lb" x="611.8" y="322.2" textLength="41.1" lengthAdjust="spacingAndGlyphs">Раковина</text>
<path d="M606.3 311.5C607 316 609 318.6 611.8 319" stroke="#4a4a4a" stroke-width="0.7" fill="none"/>
<text class="lb" x="752.5" y="261.9" textLength="77.3" lengthAdjust="spacingAndGlyphs">Стиральная машина</text>
<text class="lb" x="752.5" y="273.7" textLength="96.4" lengthAdjust="spacingAndGlyphs">Капельник кондиционера</text>
<text class="lb" x="753.3" y="285.5" textLength="72.1" lengthAdjust="spacingAndGlyphs">Технический вывод</text>
<path d="M825.4 282.2C830 282.2 833.5 284 834 287.2" stroke="#4a4a4a" stroke-width="0.7" fill="none"/>
<path d="M752.3 258.5C738 272 731 300 740.4 329.5" stroke="#4a4a4a" stroke-width="0.7" fill="none"/>
<path d="M752.3 270.5C741 283 738 308 749.6 330" stroke="#4a4a4a" stroke-width="0.7" fill="none"/>
<text class="lb" x="858.1" y="231.7" textLength="71.8" lengthAdjust="spacingAndGlyphs">Сушильная машина</text>
<path d="M929.9 228.4C938 228.4 944 232 945 238.6" stroke="#4a4a4a" stroke-width="0.7" fill="none"/>
<text class="lb" x="932.0" y="324.2" textLength="71.4" lengthAdjust="spacingAndGlyphs">Промывной фильтр</text>
<path d="M932 321L889.5 318.6" stroke="#4a4a4a" stroke-width="0.7" fill="none"/>
<text class="lb" x="627.1" y="392.7" textLength="40.7" lengthAdjust="spacingAndGlyphs">Раковина</text>
<path d="M667.8 389.4H673C681 389.4 686.6 397 686.6 406C686.6 415 682 421.5 676.8 424" stroke="#4a4a4a" stroke-width="0.7" fill="none"/>
<text class="lb" x="576.5" y="405.3" textLength="61.6" lengthAdjust="spacingAndGlyphs">Душевой поддон</text>
<text class="lb" x="813.8" y="415.9" textLength="63.2" lengthAdjust="spacingAndGlyphs">Водоподготовка</text>
<path d="M813.8 412.6C808 412.6 804 411 801.3 409" stroke="#4a4a4a" stroke-width="0.7" fill="none"/>
<path d="M800.2 376C791.5 382 789.5 398 797.6 406.8" stroke="#4a4a4a" stroke-width="0.7" fill="none"/>
<text class="lb" x="476.4" y="419.1" textLength="27.6" lengthAdjust="spacingAndGlyphs">Туалет</text>
<path d="M504 415.9C516 415.9 523.5 421 527.6 432.5" stroke="#4a4a4a" stroke-width="0.7" fill="none"/>
<text class="lb" x="376.9" y="440.8" textLength="96.6" lengthAdjust="spacingAndGlyphs">Капельник кондиционера</text>
<path d="M473.5 437.3C500 437.3 525 439.5 544.8 444.6" stroke="#4a4a4a" stroke-width="0.7" fill="none"/>
<path d="M473.5 437.3C500 438.5 524 443 545.4 451.2" stroke="#4a4a4a" stroke-width="0.7" fill="none"/>
<path d="M376.9 437.2C358 438 350.5 452 354.4 466C355.8 471 357.6 474.5 360 477.3" stroke="#4a4a4a" stroke-width="0.7" fill="none"/>
<text class="lb" x="402.8" y="473.9" textLength="89.1" lengthAdjust="spacingAndGlyphs">Посудомоечная машина</text>
<path d="M402.8 470.4C388 470.4 377 474 369.8 481.3" stroke="#4a4a4a" stroke-width="0.7" fill="none"/>
<text class="lb" x="402.8" y="493.8" textLength="61.2" lengthAdjust="spacingAndGlyphs">Кухонная мойка</text>
<path d="M402.8 490.5C398.5 490.5 395.9 494 395.9 502" stroke="#4a4a4a" stroke-width="0.7" fill="none"/>
<text class="lb" x="499.7" y="549.4" textLength="58.6" lengthAdjust="spacingAndGlyphs">Вывод в септик</text>
<path d="M558.3 546.4C565 546 569.3 541 569.3 532.2" stroke="#4a4a4a" stroke-width="0.7" fill="none"/>
<text class="lbb" x="520.9" y="332.2" textLength="29.5" lengthAdjust="spacingAndGlyphs">К1-ø110</text>
<path d="M516.6 333.5H553.5" stroke="#505050" stroke-width="0.9" fill="none"/>
<path d="M535.5 303.6V319.7" stroke="#505050" stroke-width="0.8" fill="none"/>
<text class="lbb" x="601.9" y="266.1" textLength="29.0" lengthAdjust="spacingAndGlyphs">К1-ø110</text>
<path d="M597.7 268.5H634.8" stroke="#505050" stroke-width="0.9" fill="none"/>
<path d="M616.5 282.2V301.0" stroke="#505050" stroke-width="0.8" fill="none"/>
<text class="lbb" x="638.0" y="359.5" textLength="26.6" lengthAdjust="spacingAndGlyphs">К1-ø50</text>
<path d="M632.5 361.5H669.3" stroke="#505050" stroke-width="0.9" fill="none"/>
<path d="M651.5 326.3V348.8" stroke="#505050" stroke-width="0.8" fill="none"/>
<text class="lbb" x="858.6" y="295.5" textLength="29.2" lengthAdjust="spacingAndGlyphs">К1-ø110</text>
<path d="M855.0 297.5H891.0" stroke="#505050" stroke-width="0.9" fill="none"/>
<path d="M872.5 312.0V317.2" stroke="#505050" stroke-width="0.8" fill="none"/>
<text class="lbb" x="858.9" y="373.7" textLength="28.7" lengthAdjust="spacingAndGlyphs">К1-ø110</text>
<path d="M855.2 375.5H891.2" stroke="#505050" stroke-width="0.9" fill="none"/>
<path d="M872.5 344.0V361.4" stroke="#505050" stroke-width="0.8" fill="none"/>
<text class="lbb" x="756.4" y="352.8" textLength="29.5" lengthAdjust="spacingAndGlyphs">К1-ø110</text>
<path d="M752.5 354.5H788.9" stroke="#505050" stroke-width="0.9" fill="none"/>
<path d="M771.5 368.7V376.0" stroke="#505050" stroke-width="0.8" fill="none"/>
<text class="lbb" x="804.8" y="377.5" textLength="26.1" lengthAdjust="spacingAndGlyphs">К1-ø50</text>
<path d="M802.0 379.5H835.5" stroke="#505050" stroke-width="0.9" fill="none"/>
<path d="M817.5 360.8V365.6" stroke="#505050" stroke-width="0.8" fill="none"/>
<text class="lbb" x="920.7" y="309.4" textLength="26.4" lengthAdjust="spacingAndGlyphs">К1-ø50</text>
<path d="M915.7 311.5H951.8" stroke="#505050" stroke-width="0.9" fill="none"/>
<path d="M933.5 283.0V296.8" stroke="#505050" stroke-width="0.8" fill="none"/>
<text class="lbb" x="641.5" y="414.4" textLength="29.5" lengthAdjust="spacingAndGlyphs">К1-ø110</text>
<path d="M637.1 416.5H674.1" stroke="#505050" stroke-width="0.9" fill="none"/>
<path d="M656.5 430.0V442.2" stroke="#505050" stroke-width="0.8" fill="none"/>
<text class="lbb" x="633.7" y="509.8" textLength="26.9" lengthAdjust="spacingAndGlyphs">К1-ø50</text>
<path d="M629.0 512.5H664.7" stroke="#505050" stroke-width="0.9" fill="none"/>
<path d="M647.5 483.7V497.4" stroke="#505050" stroke-width="0.8" fill="none"/>
<text class="lbb" x="753.8" y="417.7" textLength="29.5" lengthAdjust="spacingAndGlyphs">К1-ø110</text>
<path d="M749.4 419.5H787.1" stroke="#505050" stroke-width="0.9" fill="none"/>
<path d="M767.5 390.9V405.8" stroke="#505050" stroke-width="0.8" fill="none"/>
<text class="lbb" x="780.5" y="437.8" textLength="26.6" lengthAdjust="spacingAndGlyphs">К1-ø50</text>
<path d="M775.8 439.5H811.5" stroke="#505050" stroke-width="0.9" fill="none"/>
<path d="M793.5 404.2V425.9" stroke="#505050" stroke-width="0.8" fill="none"/>
<text class="lbb" x="368.8" y="461.8" textLength="26.5" lengthAdjust="spacingAndGlyphs">К1-ø50</text>
<path d="M363.9 464.5H400.0" stroke="#505050" stroke-width="0.9" fill="none"/>
<path d="M381.5 478.0V508.0" stroke="#505050" stroke-width="0.8" fill="none"/>
<text class="lbb" x="432.0" y="520.0" textLength="28.9" lengthAdjust="spacingAndGlyphs">К1-ø110</text>
<path d="M428.1 522.5H463.9" stroke="#505050" stroke-width="0.9" fill="none"/>
<path d="M446.5 536.5V544.3" stroke="#505050" stroke-width="0.8" fill="none"/>
<text class="lbb" x="488.8" y="506.3" textLength="28.9" lengthAdjust="spacingAndGlyphs">К1-ø110</text>
<path d="M484.4 508.5H520.3" stroke="#505050" stroke-width="0.9" fill="none"/>
<path d="M502.5 522.9V531.4" stroke="#505050" stroke-width="0.8" fill="none"/>
<text class="lbb" x="390.0" y="555.6" textLength="26.9" lengthAdjust="spacingAndGlyphs">К1-ø50</text>
<path d="M384.8 557.5H422.3" stroke="#505050" stroke-width="0.9" fill="none"/>
<path d="M403.5 527.2V543.4" stroke="#505050" stroke-width="0.8" fill="none"/>
<text class="lbb" x="579.4" y="304.2" textLength="24.5" lengthAdjust="spacingAndGlyphs">Ст К1-</text>
<text class="lbb" x="584.0" y="316.0" textLength="15.3" lengthAdjust="spacingAndGlyphs">ø110</text>
<path d="M568.2 306.5H609.0" stroke="#505050" stroke-width="0.9" fill="none"/>
<text class="lbb" x="689.8" y="297.4" textLength="24.5" lengthAdjust="spacingAndGlyphs">Ст К1-</text>
<text class="lbb" x="695.2" y="309.2" textLength="13.5" lengthAdjust="spacingAndGlyphs">ø50</text>
<path d="M677.8 299.5H719.5" stroke="#505050" stroke-width="0.9" fill="none"/>
<text class="lbb" x="702.9" y="352.8" textLength="24.5" lengthAdjust="spacingAndGlyphs">Ст К1-</text>
<text class="lbb" x="708.4" y="364.6" textLength="13.5" lengthAdjust="spacingAndGlyphs">ø50</text>
<path d="M697.5 354.5H741.0" stroke="#505050" stroke-width="0.9" fill="none"/>
<text class="lbb" x="791.8" y="301.6" textLength="24.5" lengthAdjust="spacingAndGlyphs">Ст К1-</text>
<text class="lbb" x="797.2" y="313.4" textLength="13.5" lengthAdjust="spacingAndGlyphs">ø50</text>
<path d="M785.4 303.5H833.2" stroke="#505050" stroke-width="0.9" fill="none"/>
<text class="lbb" x="791.8" y="330.6" textLength="24.5" lengthAdjust="spacingAndGlyphs">Ст К1-</text>
<text class="lbb" x="797.2" y="342.4" textLength="13.5" lengthAdjust="spacingAndGlyphs">ø50</text>
<path d="M785.4 332.5H833.2" stroke="#505050" stroke-width="0.9" fill="none"/>
<text class="lbb" x="909.0" y="253.5" textLength="24.5" lengthAdjust="spacingAndGlyphs">Ст К1-</text>
<text class="lbb" x="914.5" y="265.3" textLength="13.5" lengthAdjust="spacingAndGlyphs">ø50</text>
<path d="M903.0 255.5H944.0" stroke="#505050" stroke-width="0.9" fill="none"/>
<text class="lbb" x="901.0" y="332.4" textLength="24.5" lengthAdjust="spacingAndGlyphs">Ст К1-</text>
<text class="lbb" x="906.5" y="344.2" textLength="13.5" lengthAdjust="spacingAndGlyphs">ø50</text>
<path d="M889.0 334.5H931.3" stroke="#505050" stroke-width="0.9" fill="none"/>
<text class="lbb" x="815.0" y="390.3" textLength="24.5" lengthAdjust="spacingAndGlyphs">Ст К1-</text>
<text class="lbb" x="820.5" y="402.1" textLength="13.5" lengthAdjust="spacingAndGlyphs">ø50</text>
<path d="M802.1 392.5H845.4" stroke="#505050" stroke-width="0.9" fill="none"/>
<text class="lbb" x="594.1" y="425.5" textLength="24.5" lengthAdjust="spacingAndGlyphs">Ст К1-</text>
<text class="lbb" x="599.6" y="437.3" textLength="13.5" lengthAdjust="spacingAndGlyphs">ø50</text>
<path d="M587.9 427.5H624.1" stroke="#505050" stroke-width="0.9" fill="none"/>
<text class="lbb" x="688.5" y="446.0" textLength="24.5" lengthAdjust="spacingAndGlyphs">Ст К1-</text>
<text class="lbb" x="694.0" y="457.8" textLength="13.5" lengthAdjust="spacingAndGlyphs">ø50</text>
<path d="M676.6 448.5H718.3" stroke="#505050" stroke-width="0.9" fill="none"/>
<text class="lbb" x="526.4" y="390.7" textLength="24.5" lengthAdjust="spacingAndGlyphs">Ст К1-</text>
<text class="lbb" x="531.0" y="402.5" textLength="15.3" lengthAdjust="spacingAndGlyphs">ø110</text>
<path d="M520.1 392.5H568.1" stroke="#505050" stroke-width="0.9" fill="none"/>
<text class="lbb" x="587.9" y="523.7" textLength="24.5" lengthAdjust="spacingAndGlyphs">Ст К1-</text>
<text class="lbb" x="592.5" y="535.5" textLength="15.3" lengthAdjust="spacingAndGlyphs">ø110</text>
<path d="M569.0 525.5H617.6" stroke="#505050" stroke-width="0.9" fill="none"/>
<text class="lbb" x="330.6" y="497.4" textLength="24.5" lengthAdjust="spacingAndGlyphs">Ст К1-</text>
<text class="lbb" x="336.1" y="509.2" textLength="13.5" lengthAdjust="spacingAndGlyphs">ø50</text>
<path d="M325.0 499.5H368.6" stroke="#505050" stroke-width="0.9" fill="none"/>
<text class="lbb" x="330.6" y="520.0" textLength="24.5" lengthAdjust="spacingAndGlyphs">Ст К1-</text>
<text class="lbb" x="336.1" y="531.8" textLength="13.5" lengthAdjust="spacingAndGlyphs">ø50</text>
<path d="M325.0 522.5H395.0" stroke="#505050" stroke-width="0.9" fill="none"/>
</g>
<!--/DIAGRAM-->
<!--WATERMARK-->
<g id="wm">
<defs>
<filter id="blur1" x="-5%" y="-30%" width="110%" height="160%"><feGaussianBlur stdDeviation="1.3"/></filter>
<filter id="blur2" x="-20%" y="-20%" width="140%" height="140%"><feGaussianBlur stdDeviation="0.9"/></filter>
<radialGradient id="gl" cx="0.48" cy="0.18" r="0.85"><stop offset="0" stop-color="#bff4ff"/><stop offset="0.22" stop-color="#28b4f0"/><stop offset="0.5" stop-color="#0d62d6"/><stop offset="1" stop-color="#0a3fb4"/></radialGradient>
<clipPath id="gc"><circle cx="808.7" cy="928.7" r="31.2"/></clipPath>
</defs>
<text x="854.6" y="942.6" textLength="403.5" lengthAdjust="spacingAndGlyphs" style="font-size:53.5px;fill:none;stroke:#6a6a6a;stroke-width:7.5px;stroke-linejoin:round;opacity:.7" filter="url(#blur1)">telegrammy.net</text>
<text x="854.6" y="942.6" textLength="403.5" lengthAdjust="spacingAndGlyphs" style="font-size:53.5px;fill:#fff;stroke:#0c0c0c;stroke-width:4.6px;stroke-linejoin:round">telegrammy.net</text>
<text x="854.6" y="942.6" textLength="403.5" lengthAdjust="spacingAndGlyphs" style="font-size:53.5px;fill:#fff;stroke:#fff;stroke-width:0.5px">telegrammy.net</text>
<!-- globe -->
<circle cx="808.7" cy="928.7" r="31.4" fill="url(#gl)"/>
<g clip-path="url(#gc)"><g filter="url(#blur2)">
<path d="M781 921 L784 908 L792 901.5 L802 898.5 L812 897.5 L814 902.5 L806 905.5 L800.5 910 L795.5 921 L789 925.5 L782.5 926Z" fill="#10c010"/>
<path d="M798 906 L804 900 L812 898.5 L813.5 903 L807 908 L802 916 L797 916Z" fill="#e8f8b0" opacity=".85"/>
<path d="M829 911 L836 914 L841 924 L840 933.5 L834 936.5 L830.5 929.5 L829.5 920Z" fill="#12c41a"/>
<path d="M792 938 L802 943 L810 943 L821 951 L816 958 L806 960 L799.5 957.5 L795 949.5 L791.5 943Z" fill="#0aa80c"/>
<path d="M812 903 L824 907 L830 912 L818 915 L806 913Z" fill="#35d0f5" opacity=".8"/>
</g></g>
<path d="M780.6 929 L829.9 911.2 L822.3 951.4 L806 942.6 L800.4 948.8 L795.8 934.6 Z" fill="#fdfeff"/>
<path d="M795.8 934.6 L821.5 917.5 L804.3 939 L800.4 948.8Z" fill="#d4e2ee"/>
<path d="M800.4 948.8 L804.3 939 L806 942.6Z" fill="#b3c9dc"/>
</g>
<!--/WATERMARK-->
</svg>
</body></html>
